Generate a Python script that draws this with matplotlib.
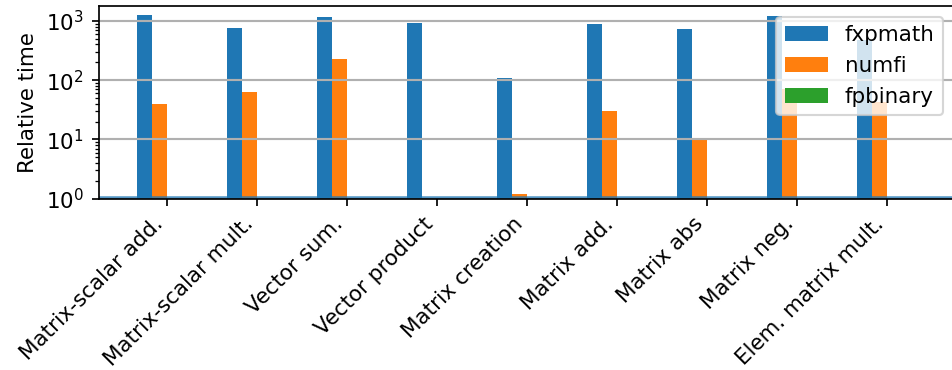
import numpy as np
import matplotlib
matplotlib.use("Agg")
import matplotlib.pyplot as plt

operations = ["Matrix-scalar add.", "Matrix-scalar mult.", "Vector sum.",
              "Vector product", "Matrix creation", "Matrix add.",
              "Matrix abs", "Matrix neg.", "Elem. matrix mult."]
libraries = ["fxpmath", "numfi", "fpbinary"]

# time relative to fpbinary
fxpmath = [1250, 753, 1140, 915, 108, 880, 724, 1200, 470]
numfi = [39.5, 63, 226, np.nan, 1.2, 30, 9.9, 72, 43]
fpbinary = [1, 1, 1, 1, 1, 1, 1, 1, 1]

dpi = 154
fig = plt.figure(figsize=(952 / dpi, 370 / dpi), dpi=dpi)
ax = fig.add_axes([99 / 952, 1 - 198.7 / 370, 855 / 952, 192.7 / 370])

x = np.arange(len(operations))
w = 1 / 6
for i, (name, vals) in enumerate(zip(libraries, [fxpmath, numfi, fpbinary])):
    ax.bar(x + (i - 2) * w, vals, width=w, align="edge", label=name)

# baseline (fpbinary = 1)
ax.axhline(1, color="tab:blue", lw=2.6, alpha=0.75)
ax.set_yscale("log")
ax.set_ylim(1, 10 ** 3.25)
ax.set_xlim(-0.752, 8.74)
ax.set_xticks(x)
ax.set_xticklabels(operations, rotation=45, ha="right")
ax.set_ylabel("Relative time")
ax.grid(axis="y", lw=1.0)
ax.legend(loc="upper right")

plt.savefig("out.png", dpi=dpi)
